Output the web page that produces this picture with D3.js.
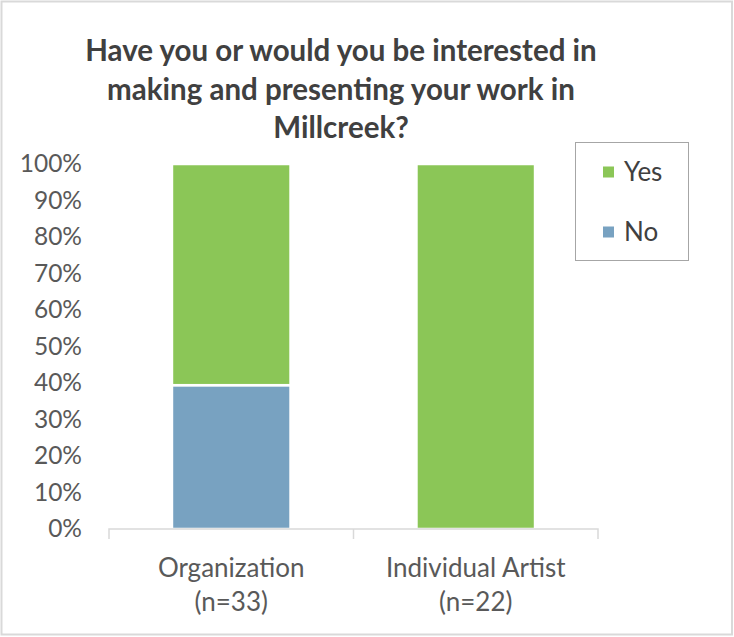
<!DOCTYPE html>
<html>
<head>
<meta charset="utf-8">
<script src="https://cdn.jsdelivr.net/npm/d3@7"></script>
<style>
  html, body { margin: 0; padding: 0; background: #fff; }
  svg { display: block; }
  text { font-family: Lato, "Open Sans", "Liberation Sans", sans-serif; }
</style>
</head>
<body>
<svg id="chart" width="734" height="637"></svg>
<script>
// Survey answers, share of respondents per group (percent)
const categories = ["Organization", "Individual Artist"];
const sampleSizes = ["(n=33)", "(n=22)"];
const seriesNames = ["No", "Yes"];
const noValues = [39.4, 0];
const yesValues = [60.6, 100];
const yTicks = [0, 10, 20, 30, 40, 50, 60, 70, 80, 90, 100];
const titleLines = [
  "Have you or would you be interested in",
  "making and presenting your work in",
  "Millcreek?"
];
const colors = { Yes: "#8bc657", No: "#78a2c1" };

const svg = d3.select("#chart");
const W = 734, H = 637;

// outer frame
svg.append("rect")
  .attr("x", 1.5).attr("y", 1.5).attr("width", W - 3.5).attr("height", H - 4)
  .attr("fill", "#fff").attr("stroke", "#d9d9d9").attr("stroke-width", 2);

// title
svg.append("g").selectAll("text").data(titleLines).join("text")
  .attr("x", 341).attr("y", (d, i) => 61 + i * 38.5)
  .attr("text-anchor", "middle")
  .attr("font-size", 29.5).attr("font-weight", "bold")
  .attr("fill", "#404040")
  .text(d => d);

const plot = { left: 109, right: 598, top: 164, bottom: 529 };

const x = d3.scaleBand().domain(categories)
  .range([plot.left, plot.right]).paddingInner(0.515).paddingOuter(0.2575);
const y = d3.scaleLinear().domain([0, 100]).range([plot.bottom, plot.top]);

// stacked data
const rows = categories.map((c, i) => ({ cat: c, No: noValues[i], Yes: yesValues[i] }));
const stack = d3.stack().keys(seriesNames)(rows);

svg.append("g").selectAll("g").data(stack).join("g")
  .attr("fill", d => colors[d.key])
  .selectAll("rect").data(d => d.filter(p => p[1] - p[0] > 0)).join("rect")
  .attr("x", d => x(d.data.cat))
  .attr("width", x.bandwidth())
  .attr("y", d => y(d[1]))
  .attr("height", d => y(d[0]) - y(d[1]))
  .attr("stroke", "#fff").attr("stroke-width", 2.5);

// y axis labels (no axis line)
const yAxis = d3.axisLeft(y).tickValues(yTicks).tickFormat(d => d + "%").tickSize(0).tickPadding(0);
const gy = svg.append("g").attr("transform", `translate(82,0)`).call(yAxis);
gy.select(".domain").remove();
gy.selectAll("text").attr("font-size", 24.5).attr("fill", "#595959")
  .attr("font-family", 'Lato, "Open Sans", "Liberation Sans", sans-serif');

// x axis line with boundary ticks
const xAxisG = svg.append("g");
xAxisG.append("path")
  .attr("d", `M${plot.left},${plot.bottom + 10}V${plot.bottom}H${plot.right}V${plot.bottom + 10}`)
  .attr("fill", "none").attr("stroke", "#d9d9d9").attr("stroke-width", 1.5);
xAxisG.append("line")
  .attr("x1", (plot.left + plot.right) / 2).attr("x2", (plot.left + plot.right) / 2)
  .attr("y1", plot.bottom).attr("y2", plot.bottom + 10)
  .attr("stroke", "#d9d9d9").attr("stroke-width", 1.5);

const xl = xAxisG.selectAll("g.lbl").data(categories).join("g").attr("class", "lbl");
xl.append("text")
  .attr("x", d => x(d) + x.bandwidth() / 2).attr("y", 577)
  .attr("text-anchor", "middle").attr("font-size", 26).attr("fill", "#595959")
  .text(d => d);
xl.append("text")
  .attr("x", d => x(d) + x.bandwidth() / 2).attr("y", 611)
  .attr("text-anchor", "middle").attr("font-size", 26).attr("fill", "#595959")
  .text((d, i) => sampleSizes[i]);

// legend
const lg = svg.append("g");
lg.append("rect").attr("x", 575.5).attr("y", 142.5).attr("width", 113).attr("height", 118)
  .attr("fill", "#fff").attr("stroke", "#a6a6a6").attr("stroke-width", 1);
const legendItems = ["Yes", "No"];
const li = lg.selectAll("g").data(legendItems).join("g")
  .attr("transform", (d, i) => `translate(603,${172 + i * 60})`);
li.append("rect").attr("x", 0).attr("y", -5.5).attr("width", 11).attr("height", 11)
  .attr("fill", d => colors[d]);
li.append("text").attr("x", 21).attr("y", 8.5).attr("font-size", 26).attr("fill", "#404040")
  .text(d => d);
</script>
</body>
</html>
